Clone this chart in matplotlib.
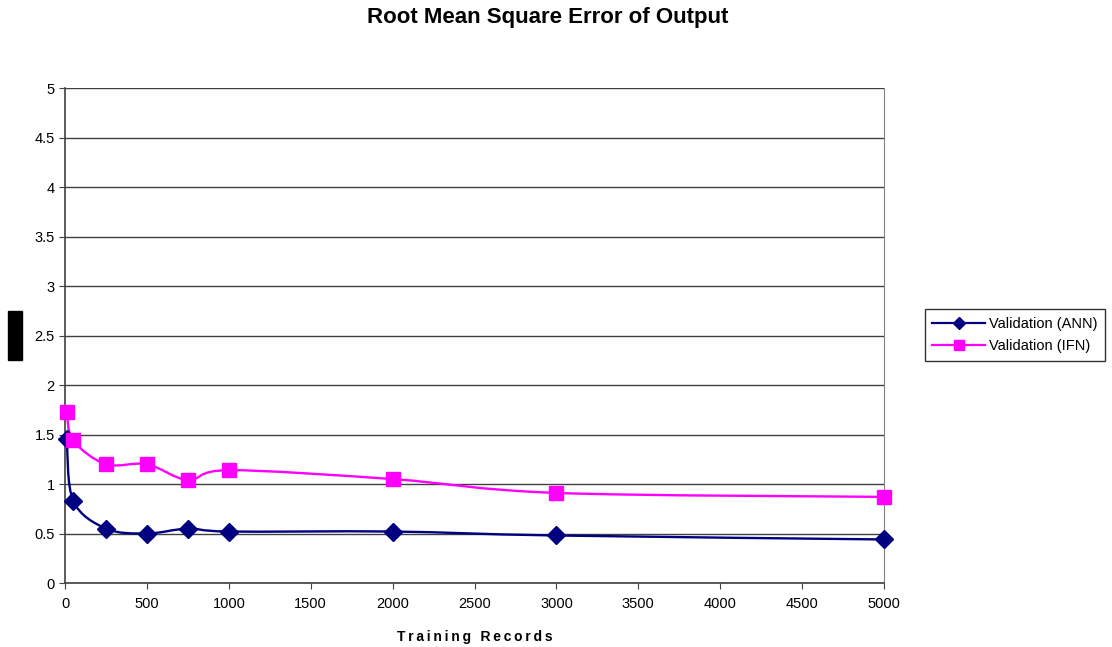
import matplotlib.pyplot as plt
from matplotlib.path import Path
from matplotlib.patches import PathPatch, Rectangle
from matplotlib.lines import Line2D

plt.rcParams['font.family'] = ['Liberation Sans', 'DejaVu Sans']

records = [10, 50, 250, 500, 750, 1000, 2000, 3000, 5000]
ann = [1.45, 0.83, 0.55, 0.50, 0.55, 0.52, 0.52, 0.48, 0.44]
ifn = [1.73, 1.44, 1.20, 1.20, 1.04, 1.14, 1.05, 0.91, 0.87]

ann_color = '#000080'
ifn_color = '#FF00FF'


def smooth_path(xs, ys):
    # Excel style smoothed line: bezier segments through the data points
    pts = list(zip(xs, ys))
    verts = [pts[0]]
    codes = [Path.MOVETO]
    n = len(pts)
    for i in range(n - 1):
        p0 = pts[i - 1] if i > 0 else pts[i]
        p1 = pts[i]
        p2 = pts[i + 1]
        p3 = pts[i + 2] if i + 2 < n else pts[i + 1]
        c1 = (p1[0] + (p2[0] - p0[0]) / 6, p1[1] + (p2[1] - p0[1]) / 6)
        c2 = (p2[0] - (p3[0] - p1[0]) / 6, p2[1] - (p3[1] - p1[1]) / 6)
        verts += [c1, c2, p2]
        codes += [Path.CURVE4] * 3
    return Path(verts, codes)


fig = plt.figure(figsize=(11.12, 6.47), dpi=100)
ax = fig.add_axes([0.0585, 0.0989, 0.7365, 0.765])

for ys, col, mk, ms in [(ann, ann_color, 'D', 9), (ifn, ifn_color, 's', 10)]:
    ax.add_patch(PathPatch(smooth_path(records, ys), facecolor='none',
                           edgecolor=col, lw=1.7, zorder=3))
    ax.plot(records, ys, linestyle='none', marker=mk, markersize=ms,
            color=col, zorder=4, clip_on=False)

ax.set_xlim(0, 5000)
ax.set_ylim(0, 5)
ax.set_xticks(range(0, 5001, 500))
ax.set_yticks([0, 0.5, 1, 1.5, 2, 2.5, 3, 3.5, 4, 4.5, 5])
ax.set_yticklabels(['0', '0.5', '1', '1.5', '2', '2.5', '3', '3.5', '4', '4.5', '5'])
ax.yaxis.grid(True, color='#404040', lw=1)
ax.set_axisbelow(True)
ax.tick_params(labelsize=10.5, direction='out', length=4, color='#404040')
ax.tick_params(axis='x', pad=6)
for s in ['left', 'bottom']:
    ax.spines[s].set_color('#404040')
    ax.spines[s].set_linewidth(1.2)
ax.spines['right'].set_color('#808080')
ax.spines['top'].set_visible(False)

xlab = '\u2009'.join('Training') + '\u2009 \u2009' + '\u2009'.join('Records')
ax.set_xlabel(xlab, fontsize=10, fontweight='bold', labelpad=14)
fig.text(548 / 1112, 1 - 18 / 647, 'Root Mean Square Error of Output',
         fontsize=16, fontweight='bold', ha='center', va='center')

# blank y-axis label box
fig.patches.append(Rectangle((8 / 1112, 1 - 360 / 647), 14 / 1112, 49 / 647,
                             transform=fig.transFigure, color='black', zorder=5))

handles = [Line2D([], [], color=ann_color, marker='D', markersize=6, lw=1.6),
           Line2D([], [], color=ifn_color, marker='s', markersize=7, lw=1.6)]
leg = fig.legend(handles, ['Validation (ANN)', 'Validation (IFN)'],
                 loc='center left', bbox_to_anchor=(925 / 1112, 1 - 335 / 647),
                 fontsize=10.5, frameon=True, fancybox=False, edgecolor='black',
                 borderpad=0.5, labelspacing=0.6, handlelength=3.6, handletextpad=0.3,
                 borderaxespad=0)
leg.get_frame().set_linewidth(1)

fig.savefig('out.png', dpi=100)
